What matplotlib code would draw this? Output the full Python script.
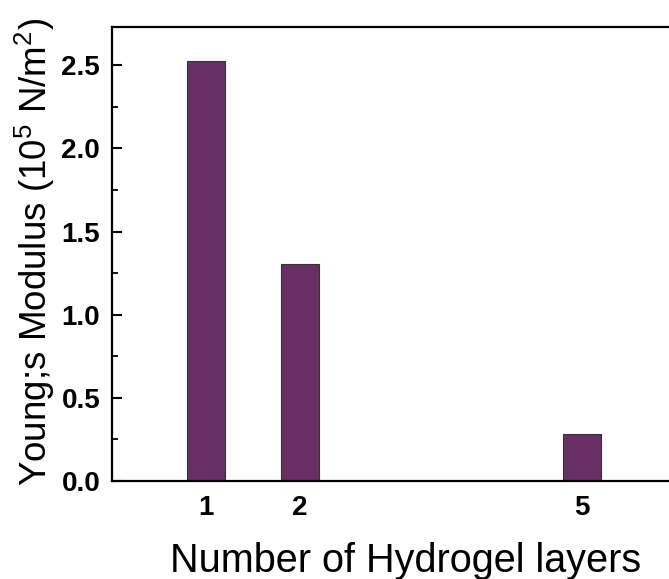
import numpy as np
import matplotlib
matplotlib.use("Agg")
import matplotlib.pyplot as plt
from matplotlib.ticker import MultipleLocator, FormatStrFormatter

plt.rcParams['font.family'] = ['Liberation Sans', 'DejaVu Sans']
plt.rcParams['mathtext.fontset'] = 'custom'
plt.rcParams['mathtext.rm'] = 'Liberation Sans'
plt.rcParams['mathtext.it'] = 'Liberation Sans:italic'
plt.rcParams['mathtext.bf'] = 'Liberation Sans:bold'

# Young's modulus per number of hydrogel layers
layers = [1, 2, 5]
modulus = [2.525, 1.305, 0.285]
tick_labels = ['1', '2', '5']

bar_color = '#682f67'

fig = plt.figure(figsize=(6.69, 5.79), dpi=100)
# right spine falls just outside the canvas
ax = fig.add_axes([112 / 669, 1 - 481 / 579, 564 / 669, 454 / 579])

ax.bar(layers, modulus, width=0.4, color=bar_color, edgecolor='#333333',
       linewidth=0.8, zorder=2)

ax.set_xlim(0, 6)
ax.set_ylim(0, 2.73)

ax.set_xticks(layers)
ax.set_xticklabels(tick_labels)
ax.yaxis.set_major_locator(MultipleLocator(0.5))
ax.yaxis.set_minor_locator(MultipleLocator(0.25))
ax.yaxis.set_major_formatter(FormatStrFormatter('%.1f'))

for side in ax.spines:
    ax.spines[side].set_linewidth(1.6)

ax.tick_params(axis='both', which='major', direction='in', length=7,
               width=1.5, labelsize=20, pad=8.5)
ax.tick_params(axis='y', which='minor', direction='in', length=4, width=1.3)
ax.tick_params(axis='x', which='major', pad=10)
for lbl in ax.get_xticklabels() + ax.get_yticklabels():
    lbl.set_fontweight('bold')

ax.set_xlabel('Number of Hydrogel layers', fontsize=28.5)
ax.xaxis.set_label_coords(0.521, -0.135)
ax.set_ylabel('Young;s Modulus (10$^5$ N/m$^2$)', fontsize=26.5)
ax.yaxis.set_label_coords(-0.098, 0.505)

fig.savefig('out.png', dpi=100)
